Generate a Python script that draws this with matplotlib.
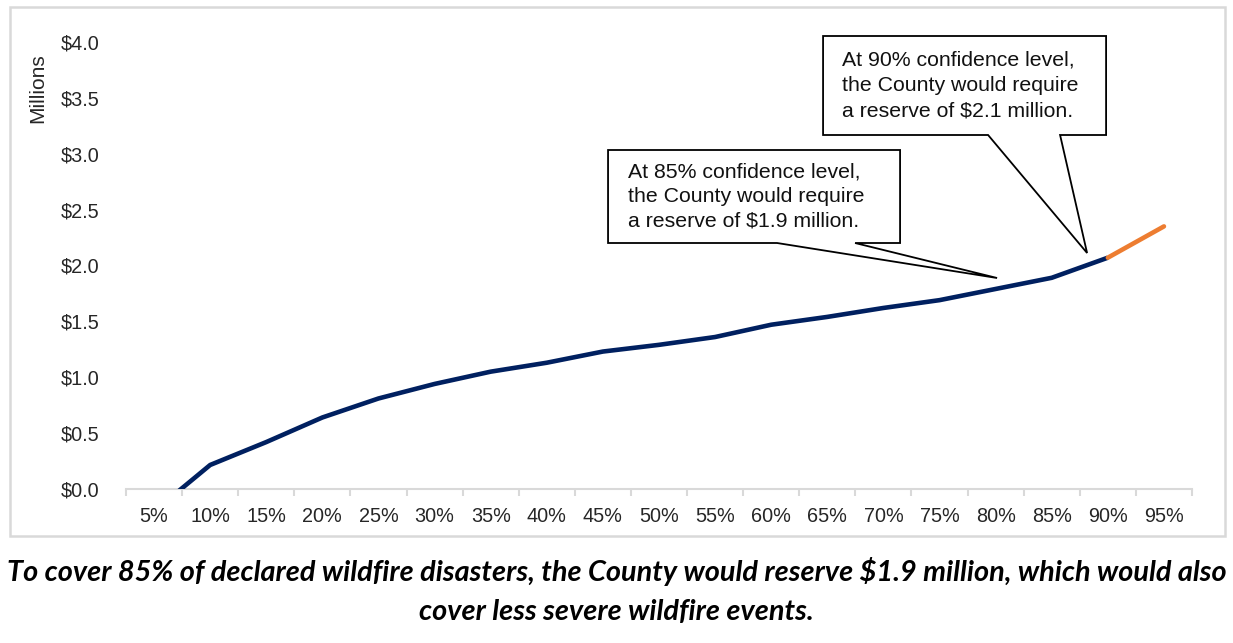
import matplotlib
import matplotlib.pyplot as plt
from matplotlib.patches import Polygon, Rectangle
import numpy as np

matplotlib.rcParams['font.family'] = ['Liberation Sans', 'DejaVu Sans']

levels = ['5%', '10%', '15%', '20%', '25%', '30%', '35%', '40%', '45%', '50%',
          '55%', '60%', '65%', '70%', '75%', '80%', '85%', '90%', '95%']
reserve = [-0.20, 0.215, 0.42, 0.64, 0.81, 0.94, 1.05, 1.13, 1.23, 1.29,
           1.36, 1.47, 1.54, 1.62, 1.69, 1.79, 1.89, 2.07, 2.35]
split_at = '90%'  # orange segment past this level

callout_85 = 'At 85% confidence level,\nthe County would require\na reserve of $1.9 million.'
callout_90 = 'At 90% confidence level,\nthe County would require\na reserve of $2.1 million.'
caption = ('To cover 85% of declared wildfire disasters, the County would reserve $1.9 million, which would also\n'
           'cover less severe wildfire events.')

navy = '#002060'
orange = '#ED7D31'
grey = '#D9D9D9'
txt = '#262626'

fig = plt.figure(figsize=(12.33, 6.43), dpi=100)
ax = fig.add_axes([126 / 1233, 1 - 489 / 643, (1192 - 126) / 1233, (489 - 42) / 643])

x = np.arange(len(levels))
k = levels.index(split_at)
ax.plot(x[:k + 1], reserve[:k + 1], color=navy, lw=3.3, solid_capstyle='butt', zorder=3)
ax.plot(x[k:], reserve[k:], color=orange, lw=3.3, solid_capstyle='round', zorder=3)

ax.set_xlim(-0.5, len(levels) - 0.5)
ax.set_ylim(0, 4)
ax.set_yticks(np.arange(0, 4.01, 0.5))
ax.set_yticklabels(['${:.1f}'.format(v) for v in np.arange(0, 4.01, 0.5)])
ax.set_xticks(x)
ax.set_xticklabels(levels)
ax.set_xticks(np.arange(-0.5, len(levels)), minor=True)

for s in ['top', 'right', 'left']:
    ax.spines[s].set_visible(False)
ax.spines['bottom'].set_color(grey)
ax.spines['bottom'].set_linewidth(1.5)
ax.tick_params(axis='x', which='major', length=0, pad=13, labelsize=14.3, labelcolor=txt)
ax.tick_params(axis='x', which='minor', length=5, width=1.5, color=grey)
ax.tick_params(axis='y', length=0, pad=19, labelsize=14.3, labelcolor=txt)

fig.text(38 / 1233, 1 - 88 / 643, 'Millions', rotation=90, ha='center', va='center',
         fontsize=15, color=txt)


def px(xp, yp):
    # chart pixel -> data coordinates
    return ((xp - 126) / 56.1 - 0.5, (489 - yp) / 111.75)


def callout(box, base, tip, text, text_x):
    l, t, r, b = box
    pts = [px(l, t), px(r, t), px(r, b), px(base[1], b), px(*tip),
           px(base[0], b), px(l, b)]
    ax.add_patch(Polygon(pts, closed=True, facecolor='white', edgecolor='black',
                         lw=1.3, clip_on=False, zorder=5))
    tx, ty = px(text_x, (t + b) / 2)
    ax.text(tx, ty, text, ha='left', va='center', fontsize=15.3, color='#111111',
            linespacing=1.4, zorder=6, clip_on=False)


callout((608, 150, 900, 243), (777, 855), (997, 278), callout_85, 628)
callout((823, 36, 1106, 135), (988, 1060), (1087, 253), callout_90, 842)

# light frame around the chart area
fig.patches.append(Rectangle((10 / 1233, 1 - 536 / 643), 1215 / 1233, 529 / 643,
                             transform=fig.transFigure, fill=False,
                             edgecolor=grey, lw=1.8))

fig.text(0.5, 1 - 591 / 643, caption, ha='center', va='center', fontsize=20.8,
         fontweight='bold', style='italic', family=['Lato', 'DejaVu Sans'],
         linespacing=1.62, color='black')

fig.savefig('out.png', dpi=100, facecolor='white')
